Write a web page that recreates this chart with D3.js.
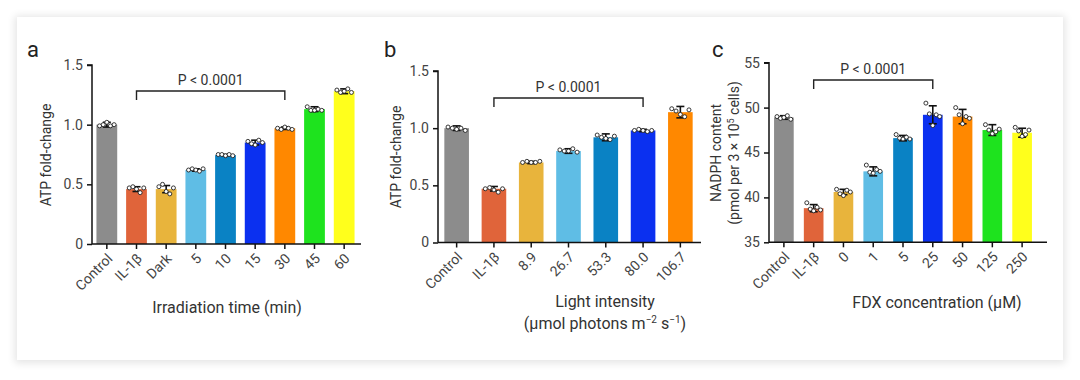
<!DOCTYPE html>
<html><head><meta charset="utf-8">
<script src="https://cdn.jsdelivr.net/npm/d3@7"></script>
<style>
html,body{margin:0;padding:0;background:#fff;}
#card{position:absolute;left:17px;top:17px;width:1046px;height:343px;background:#fff;box-shadow:0 1px 8px 2px rgba(0,0,0,0.11);}
svg{position:absolute;left:0;top:0;}
text{font-family:Roboto,"Noto Sans",sans-serif;}
</style></head>
<body>
<div id="card"></div>
<svg id="chart" width="1080" height="380"></svg>
<script>
// ---------- data ----------
const catsA = ["Control","IL-1β","Dark","5","10","15","30","45","60"];
const meanA = [1.00,0.46,0.46,0.62,0.745,0.85,0.97,1.13,1.28];
const sdA   = [0.02,0.02,0.03,0.01,0.005,0.02,0.01,0.02,0.02];
const ptsA  = [[0.99,1.00,1.02,0.99,1.00],[0.47,0.48,0.46,0.43,0.47],[0.48,0.50,0.44,0.42,0.47],
               [0.62,0.63,0.62,0.61,0.63],[0.75,0.75,0.74,0.75,0.74],[0.86,0.84,0.83,0.87,0.85],
               [0.97,0.96,0.98,0.97,0.96],[1.15,1.12,1.12,1.13,1.12],[1.29,1.27,1.28,1.30,1.27]];
const ticksA = [0,0.5,1.0,1.5];

const catsB = ["Control","IL-1β","8.9","26.7","53.3","80.0","106.7"];
const meanB = [1.00,0.47,0.70,0.80,0.92,0.98,1.14];
const sdB   = [0.02,0.02,0.01,0.02,0.03,0.01,0.05];
const ptsB  = [[1.01,1.00,0.99,1.00,0.98],[0.47,0.48,0.46,0.44,0.47],[0.70,0.71,0.70,0.70,0.71],
               [0.81,0.80,0.80,0.82,0.79],[0.94,0.92,0.91,0.90,0.93],[0.98,0.99,0.98,0.97,0.98],
               [1.17,1.15,1.12,1.10,1.16]];
const ticksB = [0,0.5,1.0,1.5];

const catsC = ["Control","IL-1β","0","1","5","25","50","125","250"];
const meanC = [48.9,38.8,40.6,42.9,46.6,49.2,49.0,47.5,47.2];
const sdC   = [0.2,0.4,0.3,0.5,0.3,1.0,0.8,0.6,0.5];
const ptsC  = [[49.0,48.8,48.9,49.1,48.7],[39.4,38.7,38.5,38.9,38.6],[40.9,40.4,40.2,40.8,40.6],
               [43.6,42.8,42.7,43.1,42.9],[47.0,46.6,46.5,46.7,46.5],[50.5,49.3,48.0,49.2,49.0],
               [50.0,49.2,48.2,49.0,48.8],[48.1,47.5,47.1,47.3,47.6],[47.8,47.4,46.8,47.0,47.5]];
const ticksC = [35,40,45,50,55];

const colA = ["#8c8c8c","#e0643a","#e8b43c","#5fbde5","#0a82c4","#0b30f0","#ff8800","#1ee31e","#ffff1c"];
const colB = ["#8c8c8c","#e0643a","#e8b43c","#5fbde5","#0a82c4","#0b30f0","#ff8800"];
const colC = colA;

const svg = d3.select("#chart");

function panel(o){
  const g = svg.append("g");
  const x = d3.scaleBand().domain(o.cats).range([o.x0,o.x1]).paddingInner(o.pad).paddingOuter(o.pad/2);
  const y = d3.scaleLinear().domain(o.dom).range([o.y0,o.y1]);
  const bw = x.bandwidth();
  g.selectAll("rect.bar").data(o.cats).join("rect")
    .attr("x",d=>x(d)).attr("width",bw)
    .attr("y",(d,i)=>y(o.mean[i])).attr("height",(d,i)=>y(o.dom[0])-y(o.mean[i]))
    .attr("fill",(d,i)=>o.col[i]);
  o.cats.forEach((c,i)=>{
    const cx = x(c)+bw/2;
    const hi = y(o.mean[i]+o.sd[i]), lo = y(o.mean[i]-o.sd[i]);
    g.append("line").attr("x1",cx).attr("x2",cx).attr("y1",hi).attr("y2",lo).attr("stroke","#111").attr("stroke-width",1.6);
    g.append("line").attr("x1",cx-4).attr("x2",cx+4).attr("y1",hi).attr("y2",hi).attr("stroke","#111").attr("stroke-width",1.6);
    g.append("line").attr("x1",cx-4).attr("x2",cx+4).attr("y1",lo).attr("y2",lo).attr("stroke","#111").attr("stroke-width",1.6);
    const offs=[-7,-3.5,0,3.5,7];
    o.pts[i].forEach((v,j)=>{
      g.append("circle").attr("cx",cx+offs[j]*bw/20).attr("cy",y(v)).attr("r",2)
        .attr("fill","#fff").attr("stroke","#222").attr("stroke-width",0.9);
    });
  });
  const ya = g.append("g").attr("transform",`translate(${o.x0},0)`)
    .call(d3.axisLeft(y).tickValues(o.ticks).tickFormat(o.fmt).tickSize(5).tickPadding(4));
  const xa = g.append("g").attr("transform",`translate(0,${o.y0})`)
    .call(d3.axisBottom(x).tickSize(5).tickPadding(4).tickSizeOuter(0));
  [ya,xa].forEach(a=>{
    a.select(".domain").attr("stroke","#111").attr("stroke-width",1.5);
    a.selectAll(".tick line").attr("stroke","#111").attr("stroke-width",1.5);
    a.selectAll(".tick text").attr("fill","#444").style("font-size","14px");
  });
  ya.select(".domain").attr("d",`M-5,${o.y1}H0V${o.y0}`);
  xa.select(".domain").attr("d",`M${o.x0},0H${o.xEnd}`);
  xa.selectAll(".tick text").attr("text-anchor","end").attr("y",0).attr("dy","0.35em")
    .attr("transform","translate(3,12) rotate(-45)");
  const bx1 = x(o.cats[o.br[0]])+bw/2, bx2 = x(o.cats[o.br[1]])+bw/2;
  g.append("path").attr("d",`M${bx1},${o.brY+9}V${o.brY}H${bx2}V${o.brY+9}`)
    .attr("fill","none").attr("stroke","#222").attr("stroke-width",1.4);
  g.append("text").attr("x",(bx1+bx2)/2).attr("y",o.brY-6).attr("text-anchor","middle")
    .attr("fill","#333").style("font-size","14px").text("P < 0.0001");
  g.append("text").attr("x",o.lx).attr("y",57).attr("fill","#222").style("font-size","22px").text(o.letter);
  return {g,x,y};
}

const fmt1 = d=> d===0?"0":d3.format(".1f")(d);

const pa = panel({cats:catsA,mean:meanA,sd:sdA,pts:ptsA,col:colA,ticks:ticksA,fmt:fmt1,
  x0:92,x1:359,xEnd:361,y0:244,y1:65,dom:[0,1.5],pad:0.3,br:[1,6],brY:91,letter:"a",lx:27});
pa.g.append("text").attr("transform","translate(51,155) rotate(-90)").attr("text-anchor","middle")
  .attr("fill","#333").style("font-size","14px").text("ATP fold-change");
pa.g.append("text").attr("x",227).attr("y",313).attr("text-anchor","middle")
  .attr("fill","#333").style("font-size","16px").text("Irradiation time (min)");

const pb = panel({cats:catsB,mean:meanB,sd:sdB,pts:ptsB,col:colB,ticks:ticksB,fmt:fmt1,
  x0:438,x1:699,xEnd:701,y0:242.5,y1:71,dom:[0,1.5],pad:0.34,br:[1,5],brY:98,letter:"b",lx:384});
pb.g.append("text").attr("transform","translate(401,157) rotate(-90)").attr("text-anchor","middle")
  .attr("fill","#333").style("font-size","14px").text("ATP fold-change");
pb.g.append("text").attr("x",605).attr("y",307).attr("text-anchor","middle")
  .attr("fill","#333").style("font-size","16px").text("Light intensity");
const t2 = pb.g.append("text").attr("x",605).attr("y",329).attr("text-anchor","middle")
  .attr("fill","#333").style("font-size","16px");
t2.append("tspan").text("(μmol photons m");
t2.append("tspan").attr("dy",-6).style("font-size","10px").text("−2");
t2.append("tspan").attr("dy",6).text(" s");
t2.append("tspan").attr("dy",-6).style("font-size","10px").text("−1");
t2.append("tspan").attr("dy",6).text(")");

const pc = panel({cats:catsC,mean:meanC,sd:sdC,pts:ptsC,col:colC,ticks:ticksC,fmt:d3.format("d"),
  x0:769,x1:1037,xEnd:1047,y0:242.3,y1:62.7,dom:[35,55],pad:0.34,br:[1,5],brY:80,letter:"c",lx:712});
pc.g.append("text").attr("transform","translate(721,153) rotate(-90)").attr("text-anchor","middle")
  .attr("fill","#333").style("font-size","14px").text("NADPH content");
const t3 = pc.g.append("text").attr("transform","translate(739,153) rotate(-90)").attr("text-anchor","middle")
  .attr("fill","#333").style("font-size","14px");
t3.append("tspan").text("(pmol per 3 × 10");
t3.append("tspan").attr("dy",-5).style("font-size","9px").text("5");
t3.append("tspan").attr("dy",5).text(" cells)");
pc.g.append("text").attr("x",937).attr("y",308).attr("text-anchor","middle")
  .attr("fill","#333").style("font-size","16px").text("FDX concentration (μM)");
</script>
</body></html>
